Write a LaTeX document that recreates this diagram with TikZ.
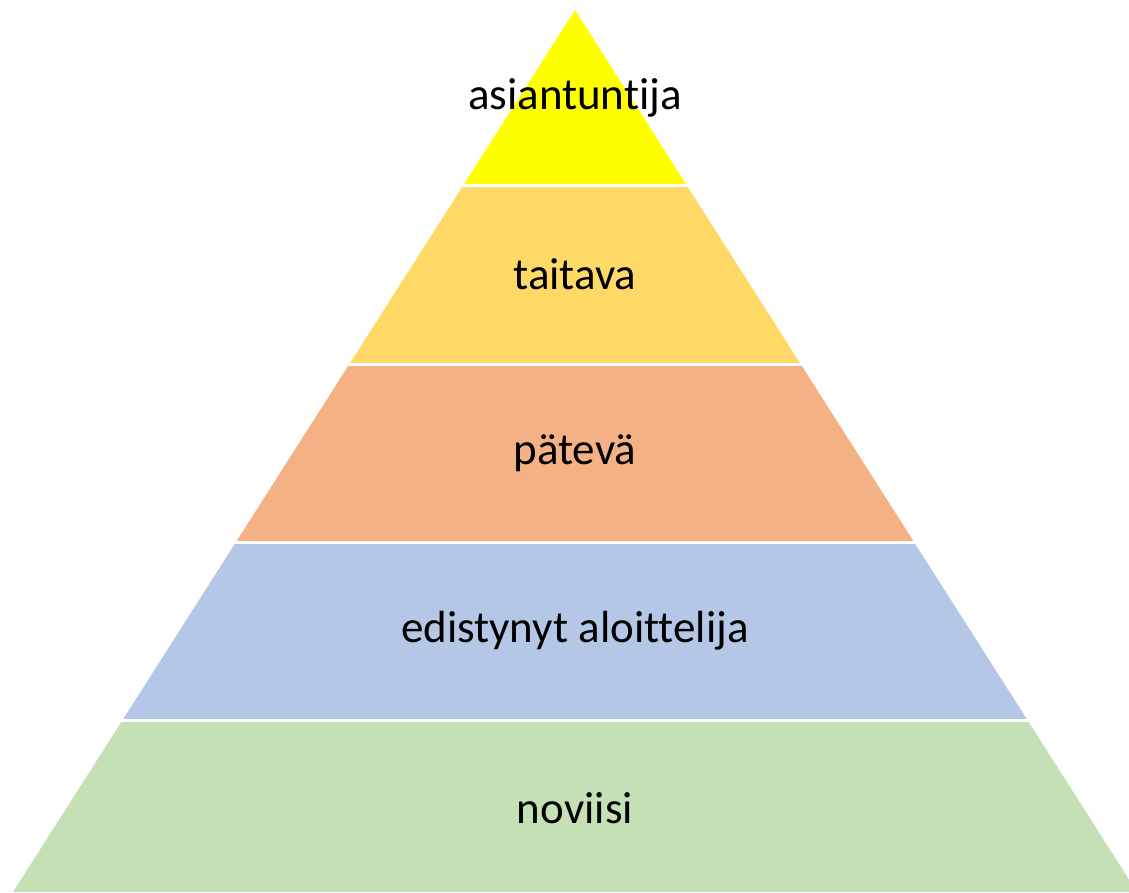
\documentclass[tikz,border=0pt]{standalone}
\usepackage{fontspec}
\setmainfont{Carlito}[Ligatures={NoCommon,NoContextual}]
\usetikzlibrary{calc}
\definecolor{tierA}{HTML}{FFFF00}
\definecolor{tierB}{HTML}{FFD966}
\definecolor{tierC}{HTML}{F4B183}
\definecolor{tierD}{HTML}{B4C7E7}
\definecolor{tierE}{HTML}{C5E0B4}
\tikzset{tierlabel/.style={font=\fontsize{45}{54}\selectfont, text=black, inner sep=0pt}}

\begin{document}
\begin{tikzpicture}[x=1pt,y=-1pt]
    \useasboundingbox (0,0) rectangle (1129,892);
    \begin{scope}
        \clip (575,10) -- (13,892) -- (1137,892) -- cycle;
        \foreach \ytop/\ybot/\col in {0/185/tierA, 185/364/tierB, 364/542/tierC, 542/720/tierD, 720/892/tierE}
        \fill[\col] (0,\ytop) rectangle (1129,\ybot);
        \foreach \y in {185, 364, 542, 720}
        \draw[white, line width=3pt] (0,\y) -- (1129,\y);
    \end{scope}
    \node[tierlabel] (asiantuntija) at (575,98) {asiantuntija};
    \node[tierlabel] (taitava) at (575,274) {taitava};
    \node[tierlabel] (patev) at (575,453) {pätevä};
    \node[tierlabel] (edistynyt) at (575,631) {edistynyt aloittelija};
    \node[tierlabel] (noviisi) at (575,808) {noviisi};
\end{tikzpicture}
\end{document}
